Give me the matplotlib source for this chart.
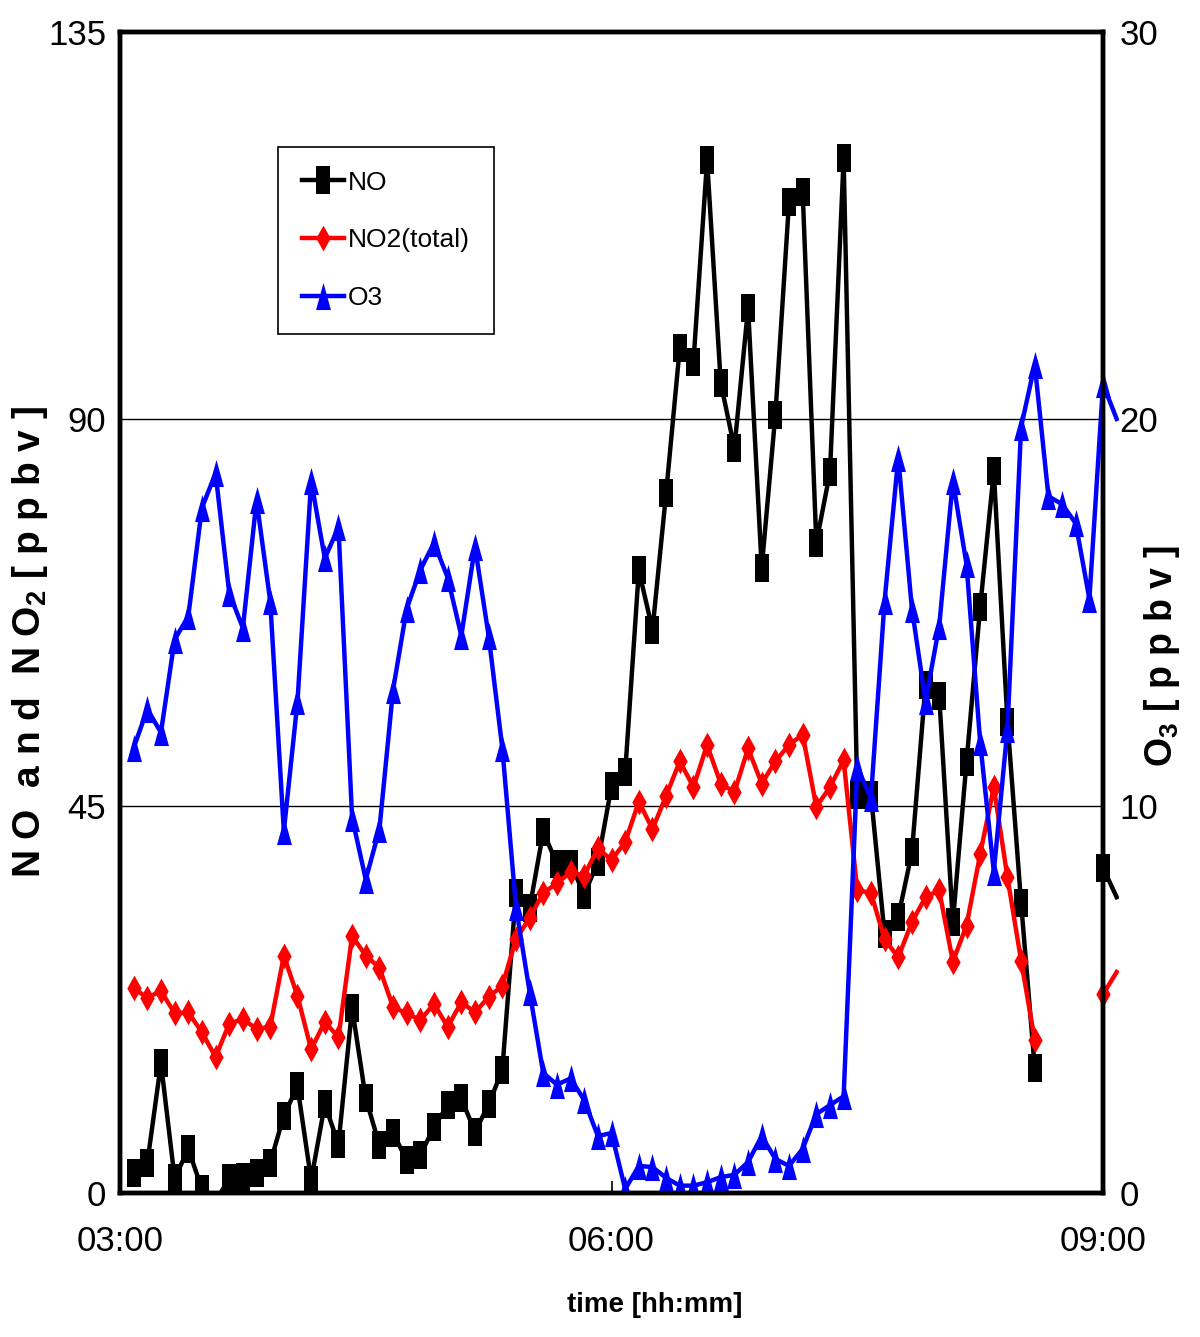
"""NO, NO2 and O3 mixing ratios, 03:00-09:00 (5-min means), twin y-axes."""
import matplotlib
matplotlib.use("Agg")
import matplotlib.dates as mdates
import matplotlib.pyplot as plt
import numpy as np
import pandas as pd
from matplotlib import font_manager
from matplotlib.patches import Rectangle

_names = {f.name for f in font_manager.fontManager.ttflist}
NARROW = "Liberation Sans Narrow" if "Liberation Sans Narrow" in _names else "Liberation Sans"

nan = np.nan
# 5-minute means from 03:05 to 09:05 (the last one sits just past the axis end)
times = pd.date_range("2000-01-01 03:05", "2000-01-01 09:05", freq="5min")
no = [2.3, 3.5, 15.1, 1.7, 5.1, 0.5, -1.0, 1.7, 1.9, 2.3,
      3.5, 9.0, 12.4, 1.5, 10.3, 5.7, 21.5, 11.0, 5.6, 7.0,
      3.8, 4.4, 7.7, 10.2, 11.0, 7.1, 10.3, 14.3, 34.9, 33.1,
      42.0, 38.3, 38.3, 34.7, 38.5, 47.3, 48.9, 72.4, 65.5, 81.4,
      98.3, 96.6, 120.1, 94.2, 86.6, 102.9, 72.7, 90.5, 115.2, 116.4,
      75.6, 83.8, 120.3, 46.3, 46.3, 30.1, 32.1, 39.6, 59.1, 57.8,
      31.5, 50.1, 68.1, 83.9, 54.8, 33.7, 14.5, nan, nan, nan,
      nan, 37.8, 34.4]
no2 = [23.8, 22.7, 23.5, 20.9, 21.0, 18.7, 15.8, 19.7, 20.2, 19.1,
       19.3, 27.6, 22.9, 16.7, 19.9, 18.1, 29.9, 27.6, 26.2, 21.6,
       20.9, 20.1, 22.0, 19.3, 22.2, 21.0, 22.8, 24.1, 29.5, 32.0,
       34.9, 36.0, 37.3, 36.9, 40.1, 38.7, 40.8, 45.5, 42.3, 46.2,
       50.2, 47.2, 52.1, 47.6, 46.6, 51.7, 47.6, 50.2, 52.1, 53.3,
       44.9, 47.2, 50.3, 35.2, 34.9, 29.5, 27.4, 31.5, 34.4, 35.2,
       26.9, 31.1, 39.4, 47.2, 36.7, 27.0, 17.8, nan, nan, nan,
       nan, 23.1, 25.7]
o3 = [11.5, 12.5, 11.9, 14.3, 14.9, 17.7, 18.6, 15.5, 14.6, 17.9,
      15.3, 9.35, 12.7, 18.4, 16.4, 17.2, 9.7, 8.1, 9.4, 13.0,
      15.1, 16.1, 16.8, 15.9, 14.4, 16.7, 14.4, 11.5, 7.4, 5.2,
      3.1, 2.8, 2.96, 2.4, 1.47, 1.55, 0.1, 0.7, 0.67, 0.39,
      0.19, 0.19, 0.28, 0.41, 0.47, 0.8, 1.47, 0.88, 0.7, 1.14,
      2.04, 2.27, 2.5, 11.0, 10.2, 15.3, 19.0, 15.1, 12.7, 14.65,
      18.4, 16.25, 11.65, 8.3, 12.0, 19.8, 21.4, 18.0, 17.8, 17.3,
      15.35, 20.9, 20.0]

left_ticks = [0, 45, 90, 135]
right_ticks = [0, 10, 20, 30]
x_start, x_end = pd.Timestamp("2000-01-01 03:00"), pd.Timestamp("2000-01-01 09:00")

# tall, narrow marker shapes
SQUARE = [(-0.52, -1), (0.52, -1), (0.52, 1), (-0.52, 1)]
DIAMOND = [(0, -1), (0.56, 0), (0, 1), (-0.56, 0)]
TRIANGLE = [(0, 1), (0.55, -1), (-0.55, -1)]

plt.rcParams.update({
    "font.family": [NARROW, "DejaVu Sans"],
    "mathtext.fontset": "custom",
    "mathtext.rm": NARROW, "mathtext.bf": f"{NARROW}:bold",
})

fig = plt.figure(figsize=(12, 13.37), dpi=100)
ax = fig.add_axes([0.1, 0.1077, 0.8192, 0.8684])
ax2 = ax.twinx()


def draw(axis, vals, color, marker, ms, label):
    vals = np.asarray(vals, float)
    keep = [i for i, v in enumerate(vals[:-1]) if v >= 0]
    (ln,) = axis.plot(times, vals, color=color, lw=3.2, marker=marker, ms=ms,
                      mew=0, markevery=keep, label=label)
    # lines run a little past the right edge, as in the original
    ln.set_clip_path(Rectangle((0, 0), 1.016, 1, transform=axis.transAxes))
    return ln


h1 = draw(ax, no, "black", SQUARE, 19.5, "NO")
h2 = draw(ax, no2, "#ff0000", DIAMOND, 18.5, "NO2(total)")
h3 = draw(ax2, o3, "#0000ff", TRIANGLE, 19.5, "O3")

ax.set_xlim(x_start, x_end)
ax.set_ylim(0, 135)
ax.set_yticks(left_ticks)
ax2.set_ylim(0, 30)
ax2.set_yticks(right_ticks)
ax.xaxis.set_major_locator(mdates.HourLocator(byhour=[3, 6, 9]))
ax.xaxis.set_major_formatter(mdates.DateFormatter("%H:%M"))

ax.yaxis.grid(True, color="black", lw=1.0)
ax.set_axisbelow(True)
for a in (ax, ax2):
    for s in a.spines.values():
        s.set_linewidth(3.2)
ax.tick_params(axis="x", direction="in", length=9, width=1.2, pad=23, labelsize=25)
ax.tick_params(axis="y", length=0, pad=10, labelsize=25)
ax2.tick_params(axis="y", length=0, pad=12, labelsize=25)

ax.set_xlabel("time [hh:mm]", fontsize=20, fontweight="bold")
ax.xaxis.set_label_coords(0.544, -0.0965)
ax.xaxis.label.set_va("center")
ax.set_ylabel(r"N O  a n d  N O$_\mathbf{2}$ [ p p b v ]", fontsize=28, fontweight="bold")
ax.yaxis.set_label_coords(-0.0916, 0.4746)
ax.yaxis.label.set_va("center")
ax2.set_ylabel(r"O$_\mathbf{3}$ [ p p b v ]", fontsize=27, fontweight="bold")
ax2.yaxis.set_label_coords(1.060, 0.4625)
ax2.yaxis.label.set_va("center")

leg = ax2.legend([h1, h2, h3], ["NO", "NO2(total)", "O3"], loc="upper left",
                 bbox_to_anchor=(0.1607, 0.901), borderaxespad=0, fancybox=False,
                 edgecolor="black", framealpha=1, fontsize=19, numpoints=1,
                 handlelength=1.6, handletextpad=0.15, labelspacing=1.28, borderpad=0.9)
leg.get_frame().set_linewidth(1.2)

fig.savefig("out.png", dpi=100)
